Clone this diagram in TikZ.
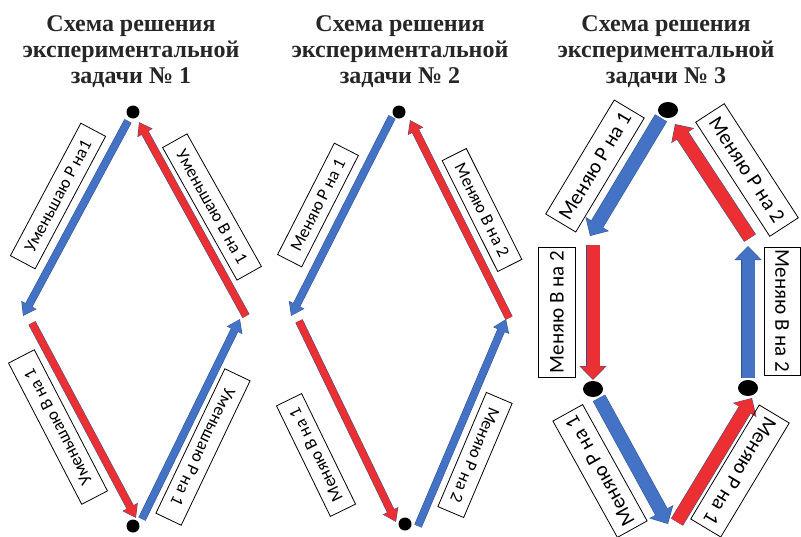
\documentclass[tikz,border=0pt]{standalone}
\usepackage{fontspec}
\setmainfont{Liberation Serif}
\newfontfamily\labfont{Carlito}
\usetikzlibrary{arrows.meta,shapes.geometric}
\definecolor{ablue}{HTML}{4472C4}
\definecolor{ared}{HTML}{EC2F32}
\definecolor{aedge}{HTML}{2F528F}
\definecolor{ttl}{HTML}{262626}
\tikzset{
  title/.style={font=\fontsize{24}{26}\selectfont\bfseries, align=center, text=ttl, inner sep=0pt},
  lab/.style={draw=black, line width=0.8pt, inner sep=0pt, align=center, font=\labfont\fontsize{17.5}{20}\selectfont},
  labbig/.style={lab, font=\labfont\fontsize{21}{24}\selectfont},
  dot/.style={circle, fill=black, draw=none, minimum size=13pt, inner sep=0pt},
  edot/.style={ellipse, fill=black, draw=none, minimum width=20pt, minimum height=16pt, inner sep=0pt},
  thinO/.style={line width=8pt, draw=aedge, -{Triangle[width=16.5pt,length=12.5pt]}},
  thinI/.style={line width=7pt, shorten >=0.7pt, -{Triangle[width=15pt,length=11.5pt]}},
  thickO/.style={line width=14pt, draw=aedge, -{Triangle[width=26.5pt,length=14pt]}},
  thickI/.style={line width=13pt, shorten >=0.7pt, -{Triangle[width=25pt,length=13pt]}},
}
\newcommand\arrowpair[4]{\draw[#1O] (#3) -- (#4); \draw[#1I, draw=#2] (#3) -- (#4);}
\begin{document}
\begin{tikzpicture}[x=1pt,y=-1pt]
\useasboundingbox (0,0) rectangle (801,536);
% ---------- titles
\node[title] (h1) at (131,52) {Схема решения\\экспериментальной\\задачи № 1};
\node[title] (h2) at (400,52) {Схема решения\\экспериментальной\\задачи № 2};
\node[title] (h3) at (666,52) {Схема решения\\экспериментальной\\задачи № 3};
% ================= diagram 1
\node[dot] (t1) at (133,112) {};
\node[dot] (b1) at (133,526) {};
\coordinate (p1a) at (128,121); \coordinate (p1b) at (23,316);
\coordinate (p1c) at (32,323);  \coordinate (p1d) at (136,518);
\coordinate (p1e) at (142,519); \coordinate (p1f) at (240,319);
\coordinate (p1g) at (246,316); \coordinate (p1h) at (139,122);
\arrowpair{thin}{ablue}{p1a}{p1b}
\arrowpair{thin}{ared}{p1c}{p1d}
\arrowpair{thin}{ablue}{p1e}{p1f}
\arrowpair{thin}{ared}{p1g}{p1h}
\node[lab, rotate=62, minimum width=150pt, minimum height=28pt] (l1a) at (58,196) {Уменьшаю Р на1};
\node[lab, rotate=-60.7, minimum width=152pt, minimum height=28pt] (l1b) at (212,207) {Уменьшаю В на 1};
\node[lab, rotate=117.4, minimum width=159pt, minimum height=29pt] (l1c) at (58,427) {Уменьшаю В на 1};
\node[lab, rotate=-115.5, minimum width=160pt, minimum height=28pt] (l1d) at (203,447) {Уменьшаю Р на 1};
% ================= diagram 2
\node[dot] (t2) at (399,112) {};
\node[dot] (b2) at (405,524) {};
\coordinate (p2a) at (392,117); \coordinate (p2b) at (291,316);
\coordinate (p2c) at (299,321); \coordinate (p2d) at (396,522);
\coordinate (p2e) at (418,526); \coordinate (p2f) at (506,319);
\coordinate (p2g) at (509,318); \coordinate (p2h) at (410,120);
\arrowpair{thin}{ablue}{p2a}{p2b}
\arrowpair{thin}{ared}{p2c}{p2d}
\arrowpair{thin}{ablue}{p2e}{p2f}
\arrowpair{thin}{ared}{p2g}{p2h}
\node[lab, rotate=63, minimum width=125pt, minimum height=27pt] (l2a) at (318,205) {Меняю Р на 1};
\node[lab, rotate=-63.4, minimum width=124pt, minimum height=27pt] (l2b) at (482,210) {Меняю В на 2};
\node[lab, rotate=116, minimum width=123pt, minimum height=28pt] (l2c) at (316,455) {Меняю В на 1};
\node[lab, rotate=-113, minimum width=124pt, minimum height=28pt] (l2d) at (475,455) {Меняю Р на 2};
% ================= diagram 3
\node[edot] (t3) at (668,110) {};
\node[edot] (m3l) at (593,389) {};
\node[edot] (m3r) at (748,388) {};
\coordinate (p3a) at (661,118); \coordinate (p3b) at (590,236);
\coordinate (p3c) at (593,245); \coordinate (p3d) at (593,380);
\coordinate (p3e) at (599,398); \coordinate (p3f) at (668,524);
\coordinate (p3g) at (677,522); \coordinate (p3h) at (752,398);
\coordinate (p3i) at (748,378); \coordinate (p3j) at (748,246);
\coordinate (p3k) at (750,238); \coordinate (p3l) at (675,124);
\arrowpair{thick}{ablue}{p3a}{p3b}
\arrowpair{thick}{ared}{p3c}{p3d}
\arrowpair{thick}{ablue}{p3e}{p3f}
\arrowpair{thick}{ared}{p3g}{p3h}
\arrowpair{thick}{ablue}{p3i}{p3j}
\arrowpair{thick}{ared}{p3k}{p3l}
\node[labbig, rotate=59, minimum width=133pt, minimum height=35pt] (l3a) at (595,166) {Меняю Р на 1};
\node[labbig, rotate=-57, minimum width=136pt, minimum height=34pt] (l3b) at (747,170) {Меняю Р на 2};
\node[labbig, rotate=90, minimum width=130pt, minimum height=37pt] (l3c) at (557,312) {Меняю В на 2};
\node[labbig, rotate=-90, minimum width=128pt, minimum height=36pt] (l3d) at (782,311) {Меняю В на 2};
\node[labbig, rotate=119, minimum width=133pt, minimum height=34pt] (l3e) at (600,471) {Меняю Р на 1};
\node[labbig, rotate=-121, minimum width=133pt, minimum height=35pt] (l3f) at (740,471) {Меняю Р на 1};
\end{tikzpicture}
\end{document}
